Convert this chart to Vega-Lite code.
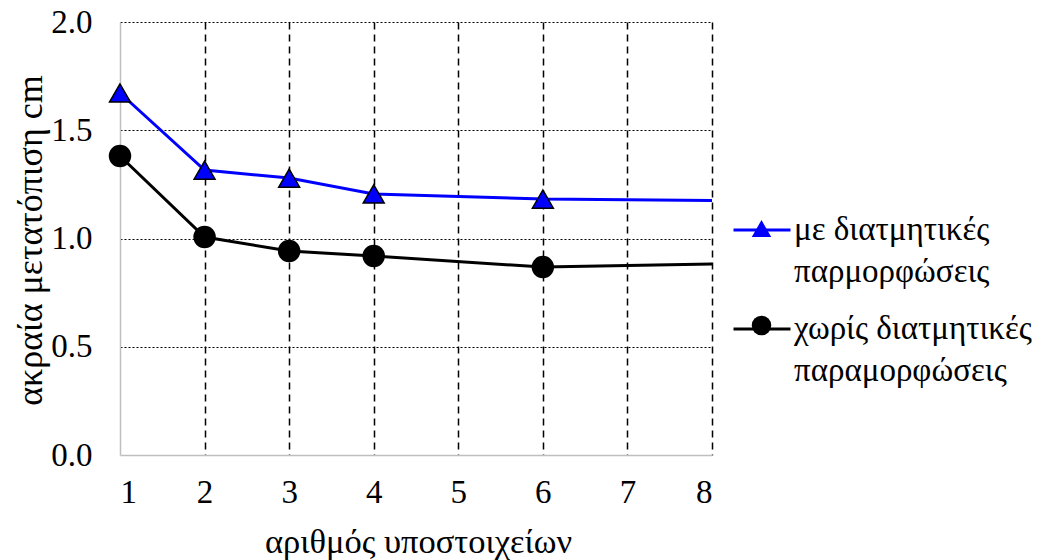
{
  "$schema": "https://vega.github.io/schema/vega-lite/v6.json",
  "width": 592,
  "height": 433,
  "autosize": {"type": "none"},
  "padding": {"left": 120, "top": 22, "right": 330, "bottom": 105},
  "background": "white",
  "config": {
    "view": {"stroke": null},
    "font": "Liberation Serif",
    "axis": {"labelFont": "Liberation Serif", "titleFont": "Liberation Serif", "labelColor": "black", "titleColor": "black", "titleFontWeight": "normal", "ticks": false, "tickSize": 0, "domainColor": "#bfbfbf", "domainWidth": 1.5},
    "legend": {"labelFont": "Liberation Serif", "labelColor": "black"}
  },
  "data": {
    "values": [
      {"n": 1, "d": 1.672, "series": "με διατμητικές παρμορφώσεις"},
      {"n": 2, "d": 1.316, "series": "με διατμητικές παρμορφώσεις"},
      {"n": 3, "d": 1.279, "series": "με διατμητικές παρμορφώσεις"},
      {"n": 4, "d": 1.206, "series": "με διατμητικές παρμορφώσεις"},
      {"n": 6, "d": 1.182, "series": "με διατμητικές παρμορφώσεις"},
      {"n": 8, "d": 1.176, "series": "με διατμητικές παρμορφώσεις"},
      {"n": 1, "d": 1.381, "series": "χωρίς διατμητικές παραμορφώσεις"},
      {"n": 2, "d": 1.007, "series": "χωρίς διατμητικές παραμορφώσεις"},
      {"n": 3, "d": 0.942, "series": "χωρίς διατμητικές παραμορφώσεις"},
      {"n": 4, "d": 0.919, "series": "χωρίς διατμητικές παραμορφώσεις"},
      {"n": 6, "d": 0.868, "series": "χωρίς διατμητικές παραμορφώσεις"},
      {"n": 8, "d": 0.882, "series": "χωρίς διατμητικές παραμορφώσεις"}
    ]
  },
  "encoding": {
    "x": {
      "field": "n", "type": "quantitative",
      "scale": {"domain": [1, 8], "nice": false, "zero": false},
      "axis": {
        "values": [1, 2, 3, 4, 5, 6, 7, 8],
        "format": "d",
        "title": "αριθμός υποστοιχείων",
        "labelFontSize": 33, "labelPadding": 21,
        "grid": true, "gridDash": [7, 5], "gridWidth": 1.5,
        "gridColor": {"condition": {"test": "datum.value == 1", "value": "transparent"}, "value": "black"},
        "titleFontSize": 34.5, "titleX": 298, "titleY": 97, "titleBaseline": "alphabetic", "titleAlign": "center", "titleAnchor": null
      }
    },
    "y": {
      "field": "d", "type": "quantitative",
      "scale": {"domain": [0, 2], "nice": false},
      "axis": {
        "values": [0, 0.5, 1, 1.5, 2],
        "format": ".1f",
        "title": "ακραία μετατόπιση cm",
        "labelFontSize": 33, "labelPadding": 28,
        "grid": true, "gridDash": [2, 2], "gridWidth": 1,
        "gridColor": {"condition": {"test": "datum.value == 0", "value": "transparent"}, "value": "black"},
        "titleFontSize": 36, "titleAngle": -90, "titleX": -90, "titleY": 218, "titleBaseline": "middle", "titleAlign": "center"
      }
    }
  },
  "layer": [
    {
      "mark": {"type": "line", "strokeWidth": 3},
      "encoding": {
        "color": {
          "field": "series", "type": "nominal",
          "scale": {"domain": ["με διατμητικές παρμορφώσεις", "χωρίς διατμητικές παραμορφώσεις"], "range": ["#0000ff", "#000000"]},
          "legend": {
            "title": null, "orient": "none", "legendX": 612, "legendY": 178,
            "symbolType": "stroke", "symbolSize": 3249, "symbolStrokeWidth": 3,
            "labelFontSize": 33, "labelOffset": 2, "labelLimit": 400, "padding": 0, "rowPadding": 10,
            "labelExpr": "datum.label == 'με διατμητικές παρμορφώσεις' ? ['με διατμητικές', 'παρμορφώσεις'] : ['χωρίς διατμητικές', 'παραμορφώσεις']",
            "encode": {"labels": {"update": {"lineHeight": {"value": 42}}}}
          }
        }
      }
    },
    {
      "transform": [{"filter": "datum.n < 8"}],
      "mark": {"type": "point", "filled": true, "stroke": "black", "strokeWidth": 1.5, "size": 440, "opacity": 1},
      "encoding": {
        "fill": {
          "field": "series", "type": "nominal",
          "scale": {"range": ["#0000ff", "#000000"]},
          "legend": {"title": null, "orient": "none", "legendX": 631, "legendY": 196, "labelExpr": "''", "padding": 0, "rowPadding": 72, "symbolStrokeColor": "black", "symbolStrokeWidth": 1.5, "symbolSize": 380}
        },
        "shape": {
          "field": "series", "type": "nominal",
          "scale": {"range": ["triangle-up", "circle"]},
          "legend": {"title": null, "orient": "none", "legendX": 631, "legendY": 196, "labelExpr": "''", "padding": 0, "rowPadding": 72, "symbolStrokeColor": "black", "symbolStrokeWidth": 1.5, "symbolSize": 380}
        }
      }
    }
  ]
}
